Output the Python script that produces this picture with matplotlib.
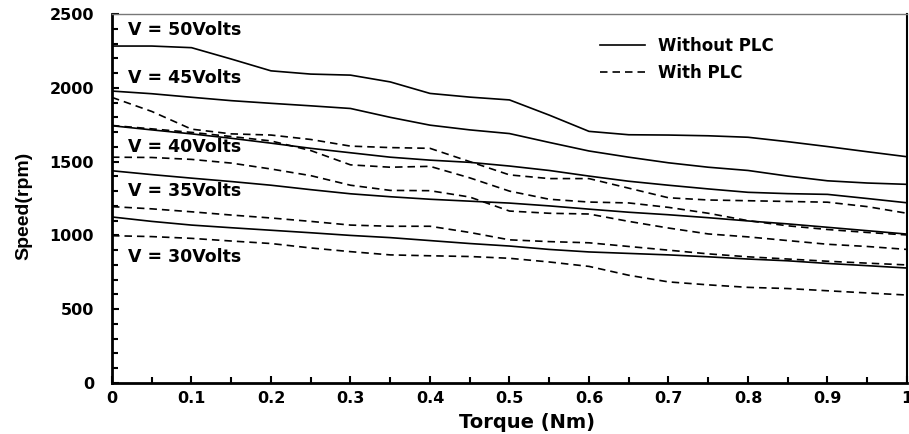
import matplotlib
matplotlib.use("Agg")
import matplotlib.pyplot as plt
from matplotlib.ticker import MultipleLocator

plt.rcParams['font.family'] = ['DejaVu Sans']
plt.rcParams['font.weight'] = 'bold'

torque = [0.0, 0.05, 0.1, 0.15, 0.2, 0.25, 0.3, 0.35, 0.4, 0.45, 0.5,
          0.55, 0.6, 0.65, 0.7, 0.75, 0.8, 0.85, 0.9, 0.95, 1.0]

# without PLC (solid)
v50_no = [2283, 2283, 2272, 2195, 2115, 2093, 2086, 2040, 1962, 1937, 1918,
          1815, 1705, 1682, 1680, 1675, 1665, 1635, 1602, 1567, 1533]
v45_no = [1978, 1960, 1936, 1913, 1895, 1878, 1860, 1800, 1747, 1715, 1690,
          1630, 1572, 1530, 1492, 1462, 1440, 1402, 1370, 1355, 1346]
v40_no = [1743, 1715, 1688, 1658, 1625, 1590, 1560, 1530, 1510, 1495, 1470,
          1440, 1402, 1367, 1340, 1315, 1292, 1283, 1278, 1250, 1221]
v35_no = [1438, 1412, 1388, 1365, 1340, 1310, 1282, 1262, 1245, 1232, 1219,
          1200, 1178, 1157, 1140, 1120, 1098, 1078, 1055, 1032, 1009]
v30_no = [1125, 1095, 1070, 1052, 1035, 1018, 1000, 985, 965, 945, 928,
          905, 888, 878, 868, 855, 840, 828, 810, 795, 779]

# with PLC (dashed)
d1 = [1935, 1840, 1720, 1688, 1680, 1650, 1605, 1595, 1590, 1500, 1410,
      1385, 1385, 1320, 1255, 1240, 1235, 1230, 1225, 1195, 1150]
d2 = [1745, 1722, 1698, 1670, 1640, 1575, 1478, 1462, 1468, 1390, 1300,
      1245, 1226, 1220, 1190, 1150, 1100, 1065, 1040, 1020, 1003]
d3 = [1530, 1528, 1515, 1490, 1450, 1405, 1340, 1305, 1303, 1260, 1165,
      1150, 1145, 1095, 1050, 1010, 990, 965, 940, 925, 905]
d4 = [1195, 1180, 1160, 1138, 1118, 1095, 1070, 1062, 1062, 1020, 970,
      958, 950, 925, 900, 875, 855, 840, 825, 812, 800]
d5 = [998, 992, 980, 962, 945, 915, 890, 868, 862, 857, 845,
      820, 790, 730, 685, 665, 648, 640, 625, 610, 596]

solid_series = [v50_no, v45_no, v40_no, v35_no, v30_no]
dashed_series = [d1, d2, d3, d4, d5]

volt_labels = ['V = 50Volts', 'V = 45Volts', 'V = 40Volts', 'V = 35Volts', 'V = 30Volts']
volt_label_y = [2392, 2066, 1599, 1301, 854]

fig = plt.figure(figsize=(9.09, 4.34), dpi=100)
ax = fig.add_axes([0.1232, 0.1175, 0.8746, 0.8502])

dash = (0, (4.5, 3))
for i, s in enumerate(solid_series):
    ax.plot(torque, s, color='black', lw=1.2, label='Without PLC' if i == 0 else None)
for i, s in enumerate(dashed_series):
    ax.plot(torque, s, color='black', lw=1.2, linestyle=dash,
            label='With PLC' if i == 0 else None)

for txt, yv in zip(volt_labels, volt_label_y):
    ax.text(0.02, yv, txt, fontsize=12.5, fontweight='bold', va='center', ha='left')

ax.set_xlim(0, 1)
ax.set_ylim(0, 2500)
ax.xaxis.set_minor_locator(MultipleLocator(0.05))
ax.yaxis.set_major_locator(MultipleLocator(500))
ax.yaxis.set_minor_locator(MultipleLocator(100))
ax.set_xticks([0, 0.1, 0.2, 0.3, 0.4, 0.5, 0.6, 0.7, 0.8, 0.9, 1.0])
ax.set_xticklabels(['0', '0.1', '0.2', '0.3', '0.4', '0.5', '0.6', '0.7', '0.8', '0.9', '1'])

ax.tick_params(axis='both', which='both', direction='in', width=1.5)
ax.tick_params(axis='both', which='major', length=5, labelsize=11.5)
ax.tick_params(axis='both', which='minor', length=4)
ax.tick_params(axis='y', which='major', pad=13)
ax.tick_params(axis='x', which='major', pad=6)
ax.tick_params(top=False, right=False, which='both')

for side in ['left', 'bottom']:
    ax.spines[side].set_linewidth(2)
ax.spines['right'].set_linewidth(1.5)
ax.spines['top'].set_linewidth(1)
ax.spines['top'].set_color('#777777')

ax.set_xlabel('Torque (Nm)', fontsize=14, fontweight='bold')
ax.xaxis.set_label_coords(0.522, -0.082)
ax.set_ylabel('Speed(rpm)', fontsize=14, fontweight='bold',
              family=['Liberation Sans Narrow', 'Liberation Sans'])
ax.yaxis.set_label_coords(-0.1, 0.48)

ax.legend(loc='upper left', bbox_to_anchor=(0.614, 0.937), frameon=False,
          fontsize=12, handlelength=2.7, handletextpad=0.8, labelspacing=0.5,
          borderpad=0, borderaxespad=0)

fig.savefig('out.png', dpi=100)
